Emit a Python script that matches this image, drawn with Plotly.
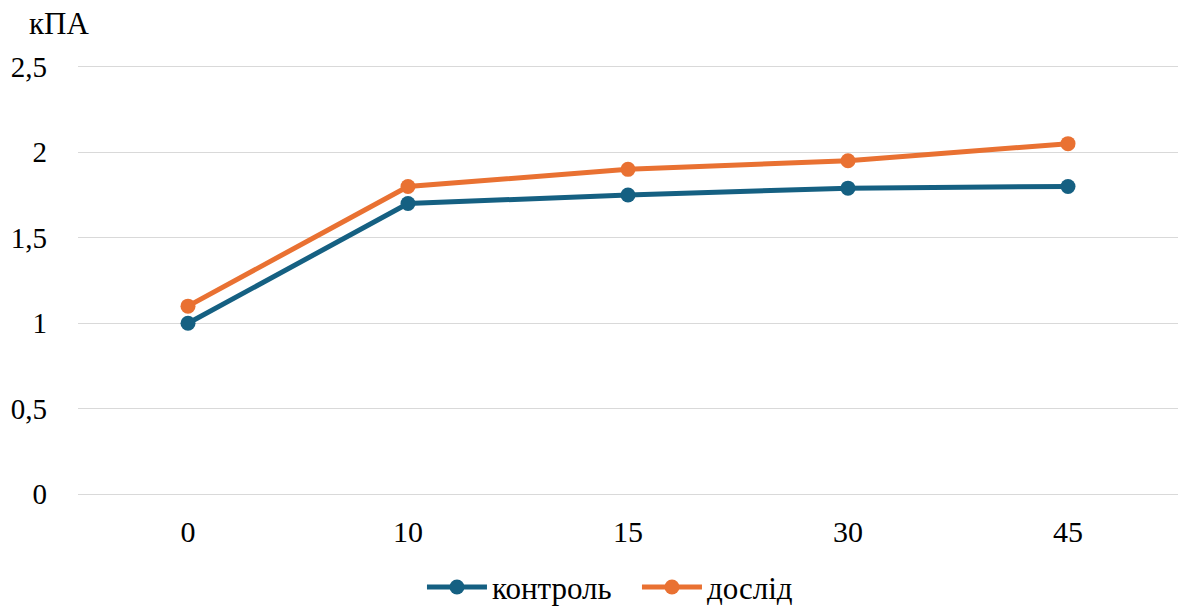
import plotly.graph_objects as go

categories = ["0", "10", "15", "30", "45"]
kontrol = [1.0, 1.7, 1.75, 1.79, 1.8]
doslid = [1.1, 1.8, 1.9, 1.95, 2.05]
y_ticks = [0, 0.5, 1, 1.5, 2, 2.5]
y_tick_labels = ["0", "0,5", "1", "1,5", "2", "2,5"]

FONT = "Liberation Serif"

fig = go.Figure()
fig.add_trace(go.Scatter(
    x=categories, y=kontrol, name="контроль", mode="lines+markers",
    line=dict(color="#156082", width=5),
    marker=dict(size=15, color="#156082"),
))
fig.add_trace(go.Scatter(
    x=categories, y=doslid, name="дослід", mode="lines+markers",
    line=dict(color="#E97132", width=5),
    marker=dict(size=15, color="#E97132"),
))

fig.update_layout(
    width=1181, height=607,
    margin=dict(l=78, r=3, t=65, b=111, autoexpand=False),
    plot_bgcolor="white", paper_bgcolor="white",
    font=dict(family=FONT, size=29, color="#000000"),
    showlegend=True,
    legend=dict(orientation="h", x=0.3127, xanchor="left", y=-0.212, yanchor="middle",
                font=dict(family=FONT, size=31), itemwidth=60, entrywidth=140),
    xaxis=dict(type="category", range=[-0.5, 4.5], showgrid=False, showline=False,
               zeroline=False, ticks="", ticklabelstandoff=15,
               tickfont=dict(family=FONT, size=30)),
    yaxis=dict(range=[-0.01, 2.51], tickvals=y_ticks, ticktext=y_tick_labels,
               showgrid=True, gridcolor="#d9d9d9", gridwidth=1.3, zeroline=False,
               showline=False, ticks="", ticklabelstandoff=30,
               tickfont=dict(family=FONT, size=29)),
    annotations=[dict(text="кПА", xref="paper", yref="paper", x=-0.046, y=1.0,
                      xanchor="left", yanchor="bottom", yshift=22, showarrow=False,
                      font=dict(family=FONT, size=31))],
)

fig.write_html("out.html")
